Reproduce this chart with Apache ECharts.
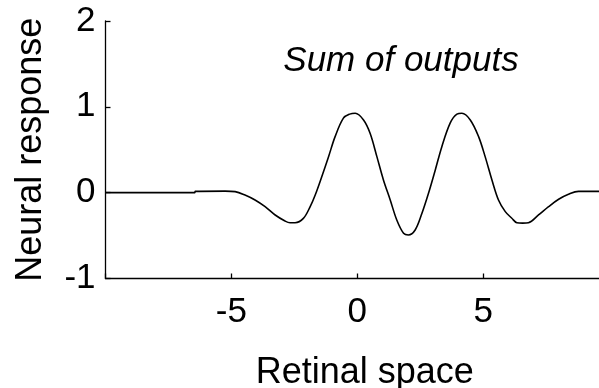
<!DOCTYPE html>
<html>
<head>
<meta charset="utf-8">
<script src="https://cdn.jsdelivr.net/npm/echarts@6/dist/echarts.min.js"></script>
<style>html,body{margin:0;padding:0;background:#fff}#c{width:599px;height:388px}</style>
</head>
<body>
<div id="c"></div>
<script>
var titleText = 'Sum of outputs';
var xName = 'Retinal space';
var yName = 'Neural response';
var xTicks = [-5, 0, 5];
var yTicks = [-1, 0, 1, 2];
var xs = [-10, -6.45, -6.44, -5.25, -4.85, -4.46, -4.06, -3.66, -3.26, -2.87, -2.67, -2.47, -2.14, -1.87, -1.67, -1.41, -1.14, -0.88, -0.55, -0.3, -0.08, 0.25, 0.51, 0.78, 1.04, 1.31, 1.57, 1.84, 2.03, 2.30, 2.57, 2.83, 3.10, 3.36, 3.69, 3.96, 4.16, 4.49, 4.82, 5.08, 5.35, 5.61, 5.88, 6.14, 6.34, 6.57, 6.80, 7.20, 7.60, 8.0, 8.39, 8.79, 10];
var ys = [0, 0, 0.015, 0.018, 0.012, -0.027, -0.085, -0.163, -0.26, -0.33, -0.35, -0.35, -0.30, -0.163, -0.027, 0.186, 0.419, 0.653, 0.868, 0.915, 0.925, 0.847, 0.692, 0.42, 0.148, -0.085, -0.318, -0.473, -0.493, -0.435, -0.24, -0.007, 0.265, 0.536, 0.81, 0.915, 0.925, 0.847, 0.653, 0.42, 0.148, -0.085, -0.221, -0.298, -0.35, -0.355, -0.35, -0.26, -0.163, -0.077, -0.019, 0.015, 0.015];

var data = xs.map(function (x, i) { return [x, ys[i]]; });
var font = 'Liberation Sans, Arial, Helvetica, sans-serif';
var chart = echarts.init(document.getElementById('c'), null, {renderer: 'canvas'});
chart.setOption({
  animation: false,
  backgroundColor: '#fff',
  title: {
    text: titleText,
    left: 396, top: 39, textAlign: 'center',
    textStyle: {fontFamily: font, fontSize: 35, fontStyle: 'italic', fontWeight: 'normal', color: '#000'}
  },
  grid: {left: 105.5, right: -10, top: 21, bottom: 109.5, containLabel: false, outerBoundsMode: 'none'},
  xAxis: {
    type: 'value', min: -10, max: 10, interval: 5,
    name: xName, nameLocation: 'middle', nameGap: 77,
    nameTextStyle: {fontFamily: font, fontSize: 36, color: '#000', padding: [0, 0, 0, 15]},
    axisLine: {onZero: false, lineStyle: {color: '#000', width: 1.3}},
    axisTick: {inside: true, length: 5, lineStyle: {color: '#000', width: 1.3}},
    axisLabel: {fontFamily: font, fontSize: 35, color: '#000', margin: 16,
      formatter: function (v) { return xTicks.indexOf(v) >= 0 ? String(v) : ''; }},
    splitLine: {show: false}
  },
  yAxis: {
    type: 'value', min: -1, max: 2, interval: 1,
    name: yName, nameLocation: 'middle', nameGap: 56,
    nameTextStyle: {fontFamily: font, fontSize: 36, color: '#000'},
    axisLine: {show: true, onZero: false, lineStyle: {color: '#000', width: 1.3}},
    axisTick: {show: true, inside: true, length: 5, lineStyle: {color: '#000', width: 1.3}},
    axisLabel: {fontFamily: font, fontSize: 35, color: '#000', margin: 10,
      formatter: function (v) { return yTicks.indexOf(v) >= 0 ? String(v) : ''; }},
    splitLine: {show: false}
  },
  series: [{
    type: 'line', data: data, showSymbol: false, smooth: 0.35,
    lineStyle: {color: '#000', width: 1.6}, clip: true
  }]
});
</script>
</body>
</html>
